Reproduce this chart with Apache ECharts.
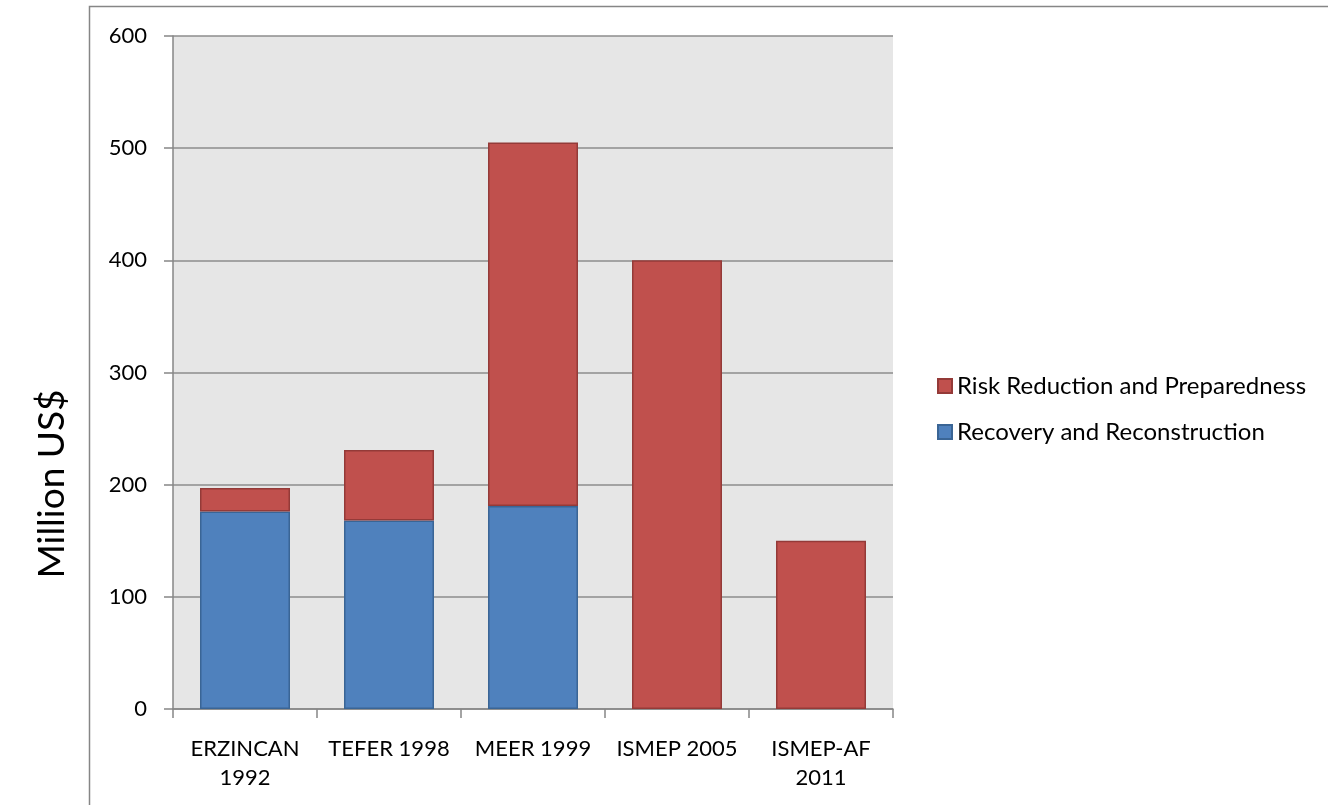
<!DOCTYPE html>
<html>
<head>
<meta charset="utf-8">
<script src="https://cdn.jsdelivr.net/npm/echarts@6/dist/echarts.min.js"></script>
<style>
html,body{margin:0;padding:0;background:#fff;}
#chart{width:1328px;height:805px;}
</style>
</head>
<body>
<div id="chart"></div>
<script>
const categories = ['ERZINCAN\n1992', 'TEFER 1998', 'MEER 1999', 'ISMEP 2005', 'ISMEP-AF\n2011'];
const recovery = [176, 168, 181, 0, 0];
const riskReduction = [21, 63, 324, 400, 150];
const yTicks = [0, 100, 200, 300, 400, 500, 600];
const seriesNames = ['Risk Reduction and Preparedness', 'Recovery and Reconstruction'];
const yTitle = 'Million US$';

const FONT = 'Lato, "Liberation Sans", sans-serif';
const chart = echarts.init(document.getElementById('chart'));
const toData = arr => arr.map(v => v === 0 ? '-' : v);

chart.setOption({
  animation: false,
  backgroundColor: '#ffffff',
  graphic: [
    { type: 'rect', shape: { x: 89.5, y: 6.5, width: 1300, height: 900 }, style: { fill: 'none', stroke: '#868686', lineWidth: 1.5 }, z: -1 },
    { type: 'text', x: 52, y: 484, rotation: Math.PI / 2, style: { text: yTitle, font: '37px ' + FONT, fill: '#000', align: 'center', verticalAlign: 'middle' } }
  ],
  grid: { left: 173, right: 435, top: 36, bottom: 96, show: true, backgroundColor: '#e6e6e6', borderWidth: 0 },
  legend: {
    data: seriesNames,
    orient: 'vertical',
    left: 932,
    top: 369,
    itemWidth: 14,
    itemHeight: 14,
    itemGap: 22,
    icon: 'rect',
    textStyle: { fontFamily: FONT, fontSize: 24, color: '#000', padding: [0, 0, 0, 0] }
  },
  xAxis: {
    type: 'category',
    data: categories,
    axisLine: { lineStyle: { color: '#868686', width: 1.5 } },
    axisTick: { show: true, length: 9, lineStyle: { color: '#868686', width: 1.5 } },
    axisLabel: { fontFamily: FONT, fontSize: 22, color: '#000', margin: 25, lineHeight: 29, interval: 0 }
  },
  yAxis: {
    type: 'value',
    min: 0, max: 600, interval: 100,
    axisLine: { show: true, lineStyle: { color: '#868686', width: 1.5 } },
    axisTick: { show: true, length: 9, lineStyle: { color: '#868686', width: 1.5 } },
    splitLine: { lineStyle: { color: '#8c8c8c', width: 1.5 } },
    axisLabel: { fontFamily: FONT, fontSize: 22, color: '#000', margin: 26,
      formatter: v => yTicks.includes(v) ? String(v) : '' }
  },
  series: [
    {
      name: seriesNames[1], type: 'bar', stack: 'total', barWidth: '62.5%',
      data: toData(recovery),
      itemStyle: { color: '#4f81bd', borderColor: '#3a6595', borderWidth: 1.5 }
    },
    {
      name: seriesNames[0], type: 'bar', stack: 'total', barWidth: '62.5%',
      data: toData(riskReduction),
      itemStyle: { color: '#c0504d', borderColor: '#943a38', borderWidth: 1.5 }
    }
  ]
});
</script>
</body>
</html>
